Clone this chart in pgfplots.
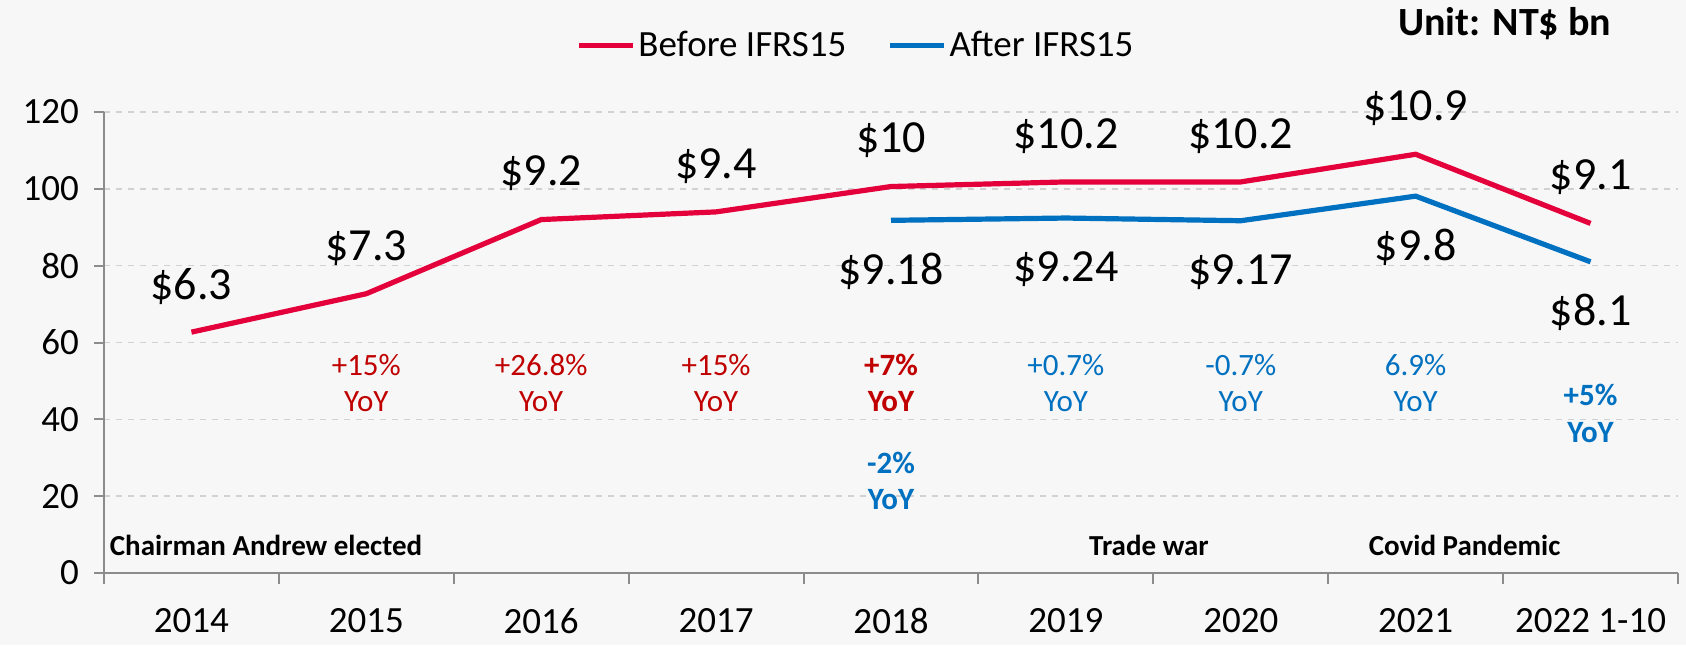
\documentclass[border=0pt]{standalone}
\usepackage{fontspec}
\setmainfont{Carlito}
\usepackage{pgfplots}
\pgfplotsset{compat=1.18}
\definecolor{linered}{HTML}{E4003B}
\definecolor{lineblue}{HTML}{0070C0}
\definecolor{txtred}{HTML}{C00000}
\definecolor{txtblue}{HTML}{0070C0}
\definecolor{axgray}{HTML}{8C8C8C}
\newcommand{\fsData}{\fontsize{23}{27}\selectfont}
\newcommand{\fsTick}{\fontsize{18.5}{22}\selectfont}
\newcommand{\fsYoY}{\fontsize{15.5}{18}\selectfont}
\newcommand{\fsNote}{\fontsize{14.5}{17}\selectfont\bfseries}
\begin{document}
\begin{tikzpicture}
\fill[black!3] (0,0) rectangle (843pt,322.5pt);
\begin{axis}[
  at={(52pt,36pt)}, anchor=south west,
  scale only axis, width=787pt, height=230.5pt,
  xmin=-0.5, xmax=8.5, ymin=0, ymax=120,
  axis x line*=bottom, axis y line*=left,
  axis line style={draw=axgray, line width=1pt},
  xtick={0,...,8},
  xticklabels={2014,2015,2016,2017,2018,2019,2020,2021,2022 1-10},
  minor xtick={-0.5,0.5,...,8.5},
  ytick={0,20,...,120},
  tick align=outside,
  major tick length=5pt, minor tick length=5.5pt,
  major x tick style={draw=none},
  minor x tick style={draw=axgray, line width=1pt},
  major y tick style={draw=axgray, line width=1pt},
  ymajorgrids, grid style={dashed, draw=black!18, line width=0.8pt},
  xticklabel style={font=\fsTick, yshift=-9pt},
  yticklabel style={font=\fsTick, xshift=-4pt},
  /pgf/number format/assume math mode=true,
  clip=false,
  legend columns=2,
  legend style={draw=none, fill=none, font=\fsTick, at={(0.478,1.145)}, anchor=center,
    nodes={inner xsep=1.5pt},
    /tikz/every even column/.append style={column sep=19pt}},
  legend image code/.code={\draw[#1] (0pt,0pt) -- (27pt,0pt);},
]
\addplot[linered, line width=2.6pt, nodes near coords, point meta=explicit symbolic,
  every node near coord/.style={anchor=center, yshift=23pt, font=\fsData, text=black}]
  coordinates {(0,62.7) [\$6.3] (1,72.7) [\$7.3] (2,92) [\$9.2] (3,94) [\$9.4]
   (4,100.6) [\$10] (5,101.8) [\$10.2] (6,101.8) [\$10.2] (7,109) [\$10.9] (8,91) [\$9.1]};
\addlegendentry{Before IFRS15}
\addplot[lineblue, line width=2.6pt, nodes near coords, point meta=explicit symbolic,
  every node near coord/.style={anchor=center, yshift=-25.5pt, font=\fsData, text=black}]
  coordinates {(4,91.8) [\$9.18] (5,92.4) [\$9.24] (6,91.7) [\$9.17] (7,98.1) [\$9.8] (8,81) [\$8.1]};
\addlegendentry{After IFRS15}
% YoY annotations
\node[font=\fsYoY, text=txtred] at (axis cs:1,54.2) {+15\%};
\node[font=\fsYoY, text=txtred] at (axis cs:1,44.6) {YoY};
\node[font=\fsYoY, text=txtred] at (axis cs:2,54.2) {+26.8\%};
\node[font=\fsYoY, text=txtred] at (axis cs:2,44.6) {YoY};
\node[font=\fsYoY, text=txtred] at (axis cs:3,54.2) {+15\%};
\node[font=\fsYoY, text=txtred] at (axis cs:3,44.6) {YoY};
\node[font=\fsYoY\bfseries, text=txtred] at (axis cs:4,54.2) {+7\%};
\node[font=\fsYoY\bfseries, text=txtred] at (axis cs:4,44.6) {YoY};
\node[font=\fsYoY, text=txtblue] at (axis cs:5,54.2) {+0.7\%};
\node[font=\fsYoY, text=txtblue] at (axis cs:5,44.6) {YoY};
\node[font=\fsYoY, text=txtblue] at (axis cs:6,54.2) {-0.7\%};
\node[font=\fsYoY, text=txtblue] at (axis cs:6,44.6) {YoY};
\node[font=\fsYoY, text=txtblue] at (axis cs:7,54.2) {6.9\%};
\node[font=\fsYoY, text=txtblue] at (axis cs:7,44.6) {YoY};
\node[font=\fsYoY\bfseries, text=txtblue] at (axis cs:4,28.6) {-2\%};
\node[font=\fsYoY\bfseries, text=txtblue] at (axis cs:4,19) {YoY};
\node[font=\fsYoY\bfseries, text=txtblue] at (axis cs:8,46.4) {+5\%};
\node[font=\fsYoY\bfseries, text=txtblue] at (axis cs:8,36.5) {YoY};
% events
\node[font=\fsNote, anchor=west, inner sep=1pt] at (axis cs:-0.48,7.3) {Chairman Andrew elected};
\node[font=\fsNote] at (axis cs:5.475,7.3) {Trade war};
\node[font=\fsNote] at (axis cs:7.28,7.3) {Covid Pandemic};
% unit
\node[font=\fontsize{20}{24}\selectfont\bfseries, anchor=east] at (rel axis cs:0.962,1.191) {Unit: NT\$ bn};
\end{axis}
\pgfresetboundingbox
\useasboundingbox (0,0) rectangle (843pt,322.5pt);
\end{tikzpicture}
\end{document}
